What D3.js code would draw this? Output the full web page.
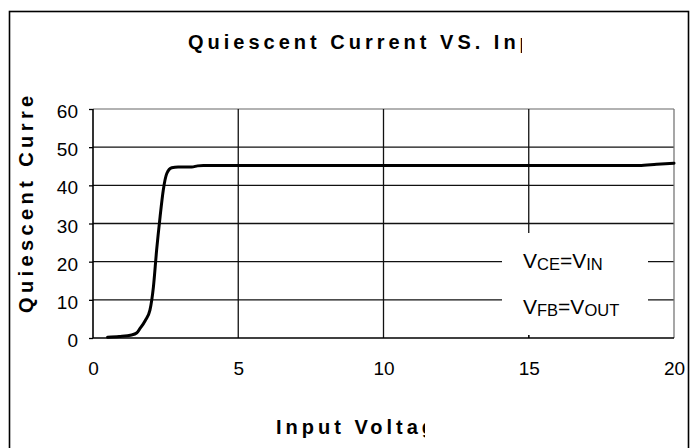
<!DOCTYPE html>
<html>
<head>
<meta charset="utf-8">
<script src="https://cdn.jsdelivr.net/npm/d3@7"></script>
<style>
  body { margin: 0; background: #fff; }
  svg { display: block; font-family: "Liberation Sans", Arial, sans-serif; }
</style>
</head>
<body>
<svg id="chart" width="697" height="448"></svg>
<script>
// input voltage (V) and quiescent current (uA)
const voltage = [0.5, 0.9, 1.33, 1.5, 1.62, 1.8, 1.96, 2.08, 2.19, 2.31, 2.42, 2.54, 2.71, 2.93, 3.4, 3.6, 3.8, 6, 10, 14, 18.8, 19.4, 20];
const current = [0.2, 0.4, 0.8, 1.3, 2.5, 4.6, 7.3, 13.4, 23, 31.8, 38.8, 43.1, 44.6, 44.8, 44.8, 45.1, 45.2, 45.2, 45.2, 45.2, 45.2, 45.5, 45.8];
const xTicks = [0, 5, 10, 15, 20];
const yTicks = [0, 10, 20, 30, 40, 50, 60];
const titleText = "Quiescent Current VS. Input Voltage";
const xLabelText = "Input Voltage";
const yLabelText = "Quiescent Current";

const svg = d3.select("#chart");
const W = 697, H = 448;
const plot = { left: 93, right: 674, top: 109, bottom: 338 };

const x = d3.scaleLinear().domain([0, 20]).range([plot.left, plot.right]);
const y = d3.scaleLinear().domain([0, 60]).range([plot.bottom, plot.top]);

svg.append("rect").attr("width", W).attr("height", H).attr("fill", "#fff");

// outer chart frame
svg.append("rect")
  .attr("x", 9.5).attr("y", 11.5)
  .attr("width", 679).attr("height", 460)
  .attr("fill", "none").attr("stroke", "#000").attr("stroke-width", 1.6);

const defs = svg.append("defs");
defs.append("clipPath").attr("id", "clipTitle")
  .append("rect").attr("x", 0).attr("y", 0).attr("width", 522).attr("height", 80);
defs.append("clipPath").attr("id", "clipX")
  .append("rect").attr("x", 0).attr("y", 390).attr("width", 425).attr("height", 58);
defs.append("clipPath").attr("id", "clipY")
  .append("rect").attr("x", 12).attr("y", 92).attr("width", 40).attr("height", 260);

// title
svg.append("text")
  .attr("clip-path", "url(#clipTitle)")
  .attr("x", 188).attr("y", 49)
  .attr("font-size", 20).attr("font-weight", "bold")
  .attr("letter-spacing", 4)
  .attr("fill", "#000")
  .text(titleText);

// gridlines
const g = svg.append("g");
g.selectAll(".hgrid")
  .data(yTicks.filter(d => d > 0))
  .enter().append("line")
  .attr("x1", plot.left).attr("x2", plot.right)
  .attr("y1", d => y(d)).attr("y2", d => y(d))
  .attr("stroke", d => d === 60 ? "#999" : "#111")
  .attr("stroke-width", 1.3);
g.selectAll(".vgrid")
  .data(xTicks.filter(d => d > 0 && d < 20))
  .enter().append("line")
  .attr("x1", d => x(d)).attr("x2", d => x(d))
  .attr("y1", plot.top).attr("y2", plot.bottom)
  .attr("stroke", "#111").attr("stroke-width", 1.3);

// right plot edge
g.append("line")
  .attr("x1", plot.right).attr("x2", plot.right)
  .attr("y1", plot.top).attr("y2", plot.bottom)
  .attr("stroke", "#777").attr("stroke-width", 1.3);

// text box over the grid
svg.append("rect")
  .attr("x", 502).attr("y", 233)
  .attr("width", 146).attr("height", 102)
  .attr("fill", "#fff");

// bottom tick at 15 showing under the box
svg.append("line")
  .attr("x1", x(15)).attr("x2", x(15))
  .attr("y1", plot.bottom - 3).attr("y2", plot.bottom)
  .attr("stroke", "#111").attr("stroke-width", 1.3);

// axes
const yAxis = d3.axisLeft(y).tickValues(yTicks).tickSize(4).tickPadding(11);
const xAxis = d3.axisBottom(x).tickValues(xTicks).tickSize(0).tickPadding(24);

const ya = svg.append("g").attr("transform", `translate(${plot.left},0)`).call(yAxis);
const xa = svg.append("g").attr("transform", `translate(0,${plot.bottom})`).call(xAxis);
[ya, xa].forEach(a => {
  a.select(".domain").attr("stroke", "#000").attr("stroke-width", 1.6);
  a.selectAll(".tick line").attr("stroke", "#000").attr("stroke-width", 1.3);
  a.selectAll(".tick text")
    .attr("font-size", 19).attr("fill", "#000")
    .attr("font-family", "Liberation Sans, Arial, sans-serif");
});
ya.selectAll(".tick text").attr("dy", "0.45em");
ya.select(".domain").attr("d", `M0,${plot.top}V${plot.bottom}`);
xa.select(".domain").attr("d", `M${plot.left},0H${plot.right}`);

// data curve
const line = d3.line()
  .x((d, i) => x(voltage[i]))
  .y(d => y(d))
  .curve(d3.curveMonotoneX);
svg.append("path")
  .datum(current)
  .attr("d", line)
  .attr("fill", "none")
  .attr("stroke", "#000")
  .attr("stroke-width", 3)
  .attr("stroke-linejoin", "round")
  .attr("stroke-linecap", "round");

// condition labels
const cond = [
  { y: 268, parts: [["V", 0], ["CE", 1], ["=V", 0], ["IN", 1]] },
  { y: 314, parts: [["V", 0], ["FB", 1], ["=V", 0], ["OUT", 1]] }
];
cond.forEach(c => {
  const t = svg.append("text").attr("x", 523).attr("y", c.y).attr("fill", "#000");
  c.parts.forEach(([s, sub]) => {
    t.append("tspan")
      .attr("font-size", sub ? 16.5 : 21)
      .attr("y", sub ? c.y + 1.5 : c.y)
      .text(s);
  });
});

// axis titles
svg.append("text")
  .attr("clip-path", "url(#clipX)")
  .attr("x", 276).attr("y", 434)
  .attr("font-size", 20).attr("font-weight", "bold")
  .attr("letter-spacing", 4)
  .attr("fill", "#000")
  .text(xLabelText);

svg.append("g")
  .attr("clip-path", "url(#clipY)")
  .append("text")
  .attr("transform", "translate(33,313) rotate(-90)")
  .attr("font-size", 20).attr("font-weight", "bold")
  .attr("letter-spacing", 4.4)
  .attr("fill", "#000")
  .text(yLabelText);
</script>
</body>
</html>
